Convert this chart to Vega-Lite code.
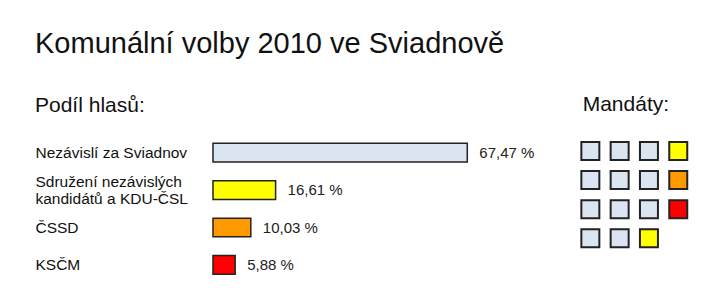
{
  "$schema": "https://vega.github.io/schema/vega-lite/v6.json",
  "padding": {"left": 35, "top": 30, "right": 10, "bottom": 5},
  "autosize": {"type": "pad"},
  "background": "white",
  "title": {
    "text": "Komunální volby 2010 ve Sviadnově",
    "anchor": "start",
    "frame": "bounds",
    "fontSize": 29,
    "font": "Liberation Sans",
    "fontWeight": "normal",
    "color": "#111111",
    "offset": 35.1
  },
  "datasets": {
    "votes": [
      {"party": "Nezávislí za Sviadnov", "share": 67.47, "label": "67,47 %"},
      {"party": "Sdružení nezávislých kandidátů a KDU-ČSL", "share": 16.61, "label": "16,61 %"},
      {"party": "ČSSD", "share": 10.03, "label": "10,03 %"},
      {"party": "KSČM", "share": 5.88, "label": "5,88 %"}
    ],
    "seats": [
      {"col": 1, "row": 1, "party": "Nezávislí za Sviadnov"},
      {"col": 1, "row": 2, "party": "Nezávislí za Sviadnov"},
      {"col": 1, "row": 3, "party": "Nezávislí za Sviadnov"},
      {"col": 1, "row": 4, "party": "Nezávislí za Sviadnov"},
      {"col": 2, "row": 1, "party": "Nezávislí za Sviadnov"},
      {"col": 2, "row": 2, "party": "Nezávislí za Sviadnov"},
      {"col": 2, "row": 3, "party": "Nezávislí za Sviadnov"},
      {"col": 2, "row": 4, "party": "Nezávislí za Sviadnov"},
      {"col": 3, "row": 1, "party": "Nezávislí za Sviadnov"},
      {"col": 3, "row": 2, "party": "Nezávislí za Sviadnov"},
      {"col": 3, "row": 3, "party": "Nezávislí za Sviadnov"},
      {"col": 3, "row": 4, "party": "Sdružení nezávislých kandidátů a KDU-ČSL"},
      {"col": 4, "row": 1, "party": "Sdružení nezávislých kandidátů a KDU-ČSL"},
      {"col": 4, "row": 2, "party": "ČSSD"},
      {"col": 4, "row": 3, "party": "KSČM"}
    ]
  },
  "spacing": 32.7,
  "hconcat": [
    {
      "data": {"name": "votes"},
      "width": 330,
      "height": 149.6,
      "title": {
        "text": "Podíl hlasů:",
        "anchor": "start",
        "frame": "bounds",
        "fontSize": 21,
        "fontWeight": "normal",
        "color": "#111111",
        "offset": 18
      },
      "encoding": {
        "y": {
          "field": "party",
          "type": "nominal",
          "sort": null,
          "scale": {"paddingInner": 0.5, "paddingOuter": 0.25},
          "axis": {
            "title": null,
            "domain": false,
            "ticks": false,
            "grid": false,
            "labelAlign": "left",
            "labelPadding": 178,
            "labelFontSize": 15.5,
            "labelLimit": 300,
            "labelColor": "#111111",
            "labelLineHeight": 17,
            "labelOffset": {"condition": {"test": "datum.value == 'Sdružení nezávislých kandidátů a KDU-ČSL'", "value": -8.5}, "value": 0},
            "labelExpr": "datum.value == 'Sdružení nezávislých kandidátů a KDU-ČSL' ? ['Sdružení nezávislých', 'kandidátů a KDU-ČSL'] : datum.label"
          }
        }
      },
      "layer": [
        {
          "mark": {"type": "bar", "stroke": "#222222", "strokeWidth": 1.5},
          "encoding": {
            "x": {"field": "share", "type": "quantitative", "scale": {"domain": [0, 87.56], "nice": false}, "axis": null},
            "color": {
              "field": "party",
              "type": "nominal",
              "scale": {
                "domain": ["Nezávislí za Sviadnov", "Sdružení nezávislých kandidátů a KDU-ČSL", "ČSSD", "KSČM"],
                "range": ["#dbe4f1", "#ffff00", "#ff9900", "#ff0000"]
              },
              "legend": null
            }
          }
        },
        {
          "mark": {"type": "text", "align": "left", "baseline": "middle", "dx": 12, "fontSize": 15, "color": "#222222"},
          "encoding": {
            "x": {"field": "share", "type": "quantitative"},
            "text": {"field": "label"}
          }
        }
      ]
    },
    {
      "data": {"name": "seats"},
      "width": 117.2,
      "height": 118.85,
      "title": {
        "text": "Mandáty:",
        "anchor": "start",
        "frame": "group",
        "fontSize": 21,
        "fontWeight": "normal",
        "color": "#111111",
        "offset": 18.75,
        "dx": 7
      },
      "mark": {"type": "rect", "stroke": "#222222", "strokeWidth": 2},
      "encoding": {
        "x": {"field": "col", "type": "ordinal", "scale": {"paddingInner": 0.386, "paddingOuter": 0.193}, "axis": null},
        "y": {"field": "row", "type": "ordinal", "scale": {"paddingInner": 0.381, "paddingOuter": 0.2326, "align": 0.589}, "axis": null},
        "color": {
          "field": "party",
          "type": "nominal",
          "scale": {
            "domain": ["Nezávislí za Sviadnov", "Sdružení nezávislých kandidátů a KDU-ČSL", "ČSSD", "KSČM"],
            "range": ["#dbe4f1", "#ffff00", "#ff8000", "#ff0000"]
          },
          "legend": null
        }
      }
    }
  ],
  "config": {
    "view": {"stroke": null},
    "font": "Liberation Sans"
  }
}
